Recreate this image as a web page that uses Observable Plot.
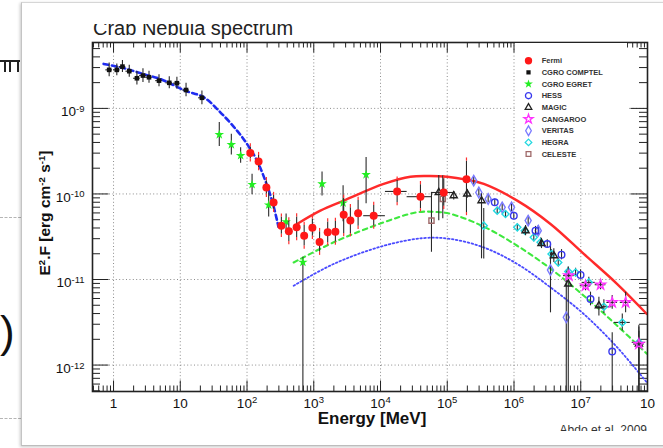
<!DOCTYPE html>
<html><head><meta charset="utf-8">
<script src="https://cdn.jsdelivr.net/npm/d3@7"></script>
<script src="https://cdn.jsdelivr.net/npm/@observablehq/plot@0.6"></script>
<style>
html,body{margin:0;padding:0;background:#fff;width:663px;height:448px;overflow:hidden;font-family:"Liberation Sans",Arial,Helvetica,sans-serif;}
#page{position:relative;width:663px;height:448px;overflow:hidden;background:#fff;}
.abs{position:absolute;}
#card{left:21px;top:2px;width:700px;height:442px;background:#fff;border-left:1px solid #c4c4c4;border-top:1px solid #d6d6d6;border-bottom:1px solid #bdbdbd;box-shadow:-1px 1px 3px rgba(0,0,0,0.22);}
#chart{left:0;top:0;}
#titleclip{left:93px;top:23.5px;width:260px;height:16px;overflow:hidden;}
#title{position:absolute;left:0;top:-6px;font-size:20px;line-height:20px;color:#222;white-space:nowrap;}
#ylabel{left:45px;top:213px;transform:translate(-50%,-50%) rotate(-90deg);font-size:15.5px;font-weight:bold;color:#111;white-space:nowrap;line-height:18px;}
#ylabel sup{font-size:0.62em;line-height:0;vertical-align:0.55em;}
#xlabel{left:372px;top:419px;transform:translate(-50%,-50%);font-size:17px;font-weight:bold;color:#111;white-space:nowrap;}
#citeclip{left:530px;top:424px;width:117px;height:7px;overflow:hidden;}
#cite{position:absolute;right:0;top:0;font-size:12px;line-height:12px;color:#333;white-space:nowrap;}
#legend{left:515px;top:43px;}
</style></head><body>
<div id="page">
  <div class="abs" style="left:0;top:60px;width:20px;height:2px;background:#222"></div>
  <div class="abs" style="left:4px;top:60px;width:1.5px;height:12px;background:#222"></div>
  <div class="abs" style="left:9px;top:60px;width:1.5px;height:12px;background:#222"></div>
  <div class="abs" style="left:17px;top:60px;width:1.5px;height:12px;background:#222"></div>
  <div class="abs" style="left:0;top:217px;width:21px;border-top:1px dashed #b5b5b5"></div>
  <div class="abs" style="left:0;top:418px;width:21px;border-top:1px dashed #b5b5b5"></div>
  <div class="abs" style="left:0;top:306px;font-size:44px;line-height:52px;color:#111">)</div>
  <div id="card" class="abs"></div>
  <div id="chart" class="abs"></div>
  <div id="titleclip" class="abs"><div id="title">Crab Nebula spectrum</div></div>
  <div id="ylabel" class="abs">E<sup>2</sup>.F [erg cm<sup>-2</sup> s<sup>-1</sup>]</div>
  <div id="xlabel" class="abs">Energy [MeV]</div>
  <div id="citeclip" class="abs"><div id="cite">Abdo et al. 2009</div></div>
  <div id="legend" class="abs"></div>
</div>
<script>
// ---------------- data (E in MeV, E^2F in erg cm^-2 s^-1; errors in decades) ----------------
const comptelE = [0.86,1.12,1.36,1.72,2.24,2.76,3.4,4.8,6.84,8.9,12.2,21.1];
const comptelF = [2.82e-9,2.82e-9,3.08e-9,2.72e-9,2.25e-9,2.42e-9,2.31e-9,2.11e-9,1.99e-9,1.97e-9,1.64e-9,1.33e-9];
const comptelErr = [0.08,0.07,0.07,0.07,0.08,0.08,0.07,0.07,0.07,0.07,0.08,0.08];
const comptelXErr = [0.05,0.05,0.05,0.05,0.05,0.05,0.05,0.05,0.05,0.05,0.05,0.05];

const egretE = [38.4,58.2,80.2,119,211,385,687,1330,2750,6080];
const egretF = [4.94e-10,3.77e-10,2.81e-10,1.29e-10,7.43e-11,4.74e-11,1.59e-11,1.31e-10,7.85e-11,1.68e-10];
const egretErrHi = [0.14,0.12,0.09,0.12,0.14,0.09,0.06,0.14,0.2,0.2];
const egretErrLo = [0.14,0.12,0.09,0.12,0.14,0.09,1.6,0.14,0.22,0.34];

const fermiE = [112,149,195,250,327,423,554,718,953,1222,1616,2108,2807,3536,4617,7907,17740,39660,88620,194000];
const fermiF = [3.02e-10,2.39e-10,1.19e-10,7.97e-11,4.26e-11,3.67e-11,4.09e-11,3.25e-11,4.04e-11,2.75e-11,3.56e-11,3.62e-11,5.73e-11,4.88e-11,5.93e-11,5.57e-11,1.07e-10,9.29e-11,1.04e-10,1.49e-10];
const fermiErrHi = [0.07,0.07,0.08,0.08,0.1,0.12,0.12,0.12,0.1,0.12,0.12,0.12,0.19,0.15,0.15,0.12,0.13,0.14,0.16,0.21];
const fermiErrLo = [0.07,0.07,0.08,0.08,0.1,0.12,0.12,0.12,0.1,0.12,0.12,0.12,0.22,0.15,0.15,0.12,0.13,0.14,0.16,0.39];
const fermiXErrLo = [0,0,0,0,0,0,0,0,0,0,0,0,0,0,0,0.15,0.175,0.2,0.17,0];
const fermiXErrHi = [0,0,0,0,0,0,0,0,0,0,0,0,0,0,0,0.175,0.15,0.17,0.17,0];

const hessE = [515000,993000,2.10e6,3.15e6,5.15e6,9.93e6,1.40e7,2.96e7];
const hessF = [7.98e-11,5.57e-11,3.72e-11,2.60e-11,1.95e-11,1.13e-11,5.92e-12,1.44e-12];
const hessErrHi = [0.04,0.04,0.05,0.05,0.06,0.06,0.08,0.22];
const hessErrLo = [0.04,0.04,0.05,0.05,0.06,0.06,0.08,1.2];

const magicE = [74600,125000,199000,326000,1.49e6,2.58e6,3.95e6,6.5e6,1.87e7,7.43e7];
const magicF = [1.04e-10,9.55e-11,1.00e-10,8.35e-11,3.72e-11,2.64e-11,1.90e-11,8.86e-12,4.94e-12,1.76e-12];
const magicErrHi = [0.2,0.05,0.05,0.08,0.06,0.06,0.08,0.2,0.1,0.2];
const magicErrLo = [0.33,0.05,0.05,0.68,0.06,0.06,0.08,1.5,0.12,1.0];

const cangarooE = [6.63e6,1.18e7,1.98e7,2.96e7,4.70e7,7.43e7];
const cangarooF = [1.11e-11,8.46e-12,8.69e-12,5.40e-12,5.40e-12,1.76e-12];
const cangarooErrHi = [0.05,0.06,0.06,0.08,0.12,0.15];
const cangarooErrLo = [0.05,0.06,0.06,0.08,0.12,1.0];
const cangarooXErr = [0.08,0.08,0.08,0.08,0.08,0.08];

const veritasE = [249000,297000,410000,665000,918000,1.63e6,2.31e6,3.52e6,6.07e6];
const veritasF = [1.43e-10,1.04e-10,8.74e-11,6.97e-11,6.97e-11,4.88e-11,3.72e-11,1.29e-11,3.61e-12];
const veritasErrHi = [0.05,0.04,0.04,0.04,0.05,0.05,0.06,0.3,0.55];
const veritasErrLo = [0.05,0.04,0.04,0.04,0.05,0.05,0.06,0.5,1.5];

const hegraE = [352000,560000,746000,1.12e6,1.45e6,1.98e6,2.50e6,3.65e6,4.60e6,6.50e6,8.36e6,1.32e7,2.22e7,4.19e7,7.43e7];
const hegraF = [4.26e-11,6.38e-11,5.83e-11,4.07e-11,3.72e-11,3.11e-11,2.72e-11,1.99e-11,1.58e-11,1.24e-11,1.21e-11,9.25e-12,4.81e-12,3.15e-12,1.84e-12];
const hegraErrHi = [0.2,0.04,0.04,0.04,0.04,0.05,0.05,0.05,0.05,0.05,0.05,0.06,0.08,0.1,0.2];
const hegraErrLo = [0.39,0.04,0.04,0.04,0.04,0.05,0.05,0.05,0.05,0.05,0.05,0.06,0.08,0.1,1.2];
const hegraXErr = [0,0,0,0,0,0,0,0,0,0,0,0.1,0.12,0.12,0.1];

const celesteE = [58000,85700];
const celesteF = [4.88e-11,8.74e-11];
const celesteErrHi = [0.33,0.27];
const celesteErrLo = [0.37,0.23];

// model curves
const syncE = [0.71,1.5,3.0,5.0,11.9,22.4,39.8,70.8,100,141,188,237,282,295];
const syncF = [3.31e-9,2.92e-9,2.48e-9,2.21e-9,1.61e-9,1.35e-9,9.0e-10,5.5e-10,3.84e-10,2.45e-10,1.43e-10,8.36e-11,4.88e-11,4.15e-11];
const icRedE = [562,1256,2805,11170,28060,55000,99770,194000,352600,1.117e6,3.52e6,1.11e7,3.52e7,9.77e7];
const icRedF = [4.46e-11,6.38e-11,8.35e-11,1.31e-10,1.59e-10,1.62e-10,1.59e-10,1.47e-10,1.31e-10,8.35e-11,4.46e-11,1.99e-11,8.85e-12,3.95e-12];
const icGreenE = [500,1987,11170,35400,70000,112700,352600,1.117e6,3.52e6,1.11e7,3.52e7,9.77e7];
const icGreenF = [1.58e-11,2.72e-11,4.66e-11,6.10e-11,6.15e-11,5.85e-11,4.15e-11,2.48e-11,1.34e-11,6.47e-12,2.88e-12,1.36e-12];
const icBlueE = [500,1987,11170,44460,111700,352600,1.117e6,3.52e6,1.11e7,3.52e7,9.77e7];
const icBlueF = [8.46e-12,1.52e-11,2.48e-11,3.05e-11,2.98e-11,2.37e-11,1.52e-11,8.09e-12,3.95e-12,1.61e-12,6.26e-13];

// axes
const xTickValues = [1,10,1e2,1e3,1e4,1e5,1e6,1e7,1e8];
const xTickLabels = ["1","10","10^2","10^3","10^4","10^5","10^6","10^7","10"];
const yTickValues = [1e-12,1e-11,1e-10,1e-9];
const yTickLabels = ["10^-12","10^-11","10^-10","10^-9"];
const legendNames = ["Fermi","CGRO COMPTEL","CGRO EGRET","HESS","MAGIC","CANGAROO","VERITAS","HEGRA","CELESTE"];

// ---------------- build ----------------
function rows(E, F, hi, lo, xlo, xhi){
  return E.map((e,i)=>({E:e, F:F[i],
    hi: F[i]*Math.pow(10, hi ? hi[i] : 0),
    lo: F[i]/Math.pow(10, lo ? lo[i] : 0),
    x1: e/Math.pow(10, xlo ? xlo[i] : 0),
    x2: e*Math.pow(10, xhi ? xhi[i] : 0),
    hasX: !!(xlo && xlo[i] > 0)}));
}
const comptel = rows(comptelE, comptelF, comptelErr, comptelErr, comptelXErr, comptelXErr);
const egret = rows(egretE, egretF, egretErrHi, egretErrLo);
const fermi = rows(fermiE, fermiF, fermiErrHi, fermiErrLo, fermiXErrLo, fermiXErrHi);
const hess = rows(hessE, hessF, hessErrHi, hessErrLo);
const magic = rows(magicE, magicF, magicErrHi, magicErrLo);
const cangaroo = rows(cangarooE, cangarooF, cangarooErrHi, cangarooErrLo, cangarooXErr, cangarooXErr);
const veritas = rows(veritasE, veritasF, veritasErrHi, veritasErrLo);
const hegra = rows(hegraE, hegraF, hegraErrHi, hegraErrLo, hegraXErr, hegraXErr);
const celeste = rows(celesteE, celesteF, celesteErrHi, celesteErrLo);
const curve = (E,F)=>E.map((e,i)=>({E:e, F:F[i]}));

const styles = {
  "Fermi": {symbol:"circle", fill:"#ff1818", stroke:"none", r:4},
  "CGRO COMPTEL": {symbol:"square", fill:"#111", stroke:"none", r:2.6},
  "CGRO EGRET": {symbol:"star", fill:"#22ee22", stroke:"none", r:3},
  "HESS": {symbol:"circle", fill:"none", stroke:"#3838ee", r:3.3},
  "MAGIC": {symbol:"triangle2", fill:"none", stroke:"#222", r:3.4},
  "CANGAROO": {symbol:"star", fill:"none", stroke:"#ff33ff", r:3.1},
  "VERITAS": {symbol:"diamond", fill:"none", stroke:"#7a7aff", r:3.2},
  "HEGRA": {symbol:"diamond2", fill:"none", stroke:"#22d8e0", r:3.2},
  "CELESTE": {symbol:"square", fill:"none", stroke:"#a06a6a", r:2.9}
};

const xDomain = [0.484, 1e8], yDomain = [4.91e-13, 5.89e-9];
const mL = 92, mR = 16, mT = 42, mB = 57, Wd = 663, Ht = 448;
const FW = Wd - mL - mR, FH = Ht - mT - mB;

const xMinor = [], yMinor = [];
for (let p = -1; p <= 8; p++) for (let k = 2; k <= 9; k++) { const v = k*Math.pow(10,p); if (v > xDomain[0] && v < xDomain[1]) xMinor.push(v); }
for (let p = -13; p <= -9; p++) for (let k = 2; k <= 9; k++) { const v = k*Math.pow(10,p); if (v > yDomain[0] && v < yDomain[1]) yMinor.push(v); }
const xMajor = xTickValues.filter(v => v < xDomain[1]);
const yMajor = yTickValues;

const errStroke = "#2a2a2a";
function series(data, name){
  const s = styles[name];
  const m = [
    Plot.ruleX(data, {x:"E", y1:"lo", y2:"hi", stroke:errStroke, strokeWidth:1.1, clip:true}),
    Plot.ruleY(data.filter(d=>d.hasX), {y:"F", x1:"x1", x2:"x2", stroke:errStroke, strokeWidth:1.1}),
    Plot.dot(data, {x:"E", y:"F", symbol:s.symbol, fill:s.fill, stroke:s.stroke, r:s.r, strokeWidth:1.4})
  ];
  return m;
}

const gridStyle = {stroke:"#8c8c8c", strokeDasharray:"1,2.4", strokeWidth:1};
const tickStyle = {stroke:"#222", strokeWidth:1};

const svg = Plot.plot({
  width: Wd, height: Ht,
  marginLeft: mL, marginRight: mR, marginTop: mT, marginBottom: mB,
  x: {type:"log", domain:xDomain, axis:null},
  y: {type:"log", domain:yDomain, axis:null},
  style: {background:"transparent", fontFamily:"'Liberation Sans', Arial, sans-serif", overflow:"visible"},
  marks: [
    Plot.ruleX(xMajor.filter(v=>v<1e8), gridStyle),
    Plot.ruleY(yMajor, gridStyle),
    // ticks (inside frame, all four sides)
    Plot.tickX(xMinor, {...tickStyle, insetTop: FH-5.5}),
    Plot.tickX(xMinor, {...tickStyle, insetBottom: FH-5.5}),
    Plot.tickX(xMajor, {...tickStyle, insetTop: FH-10.5}),
    Plot.tickX(xMajor, {...tickStyle, insetBottom: FH-10.5}),
    Plot.tickY(yMinor, {...tickStyle, insetRight: FW-8}),
    Plot.tickY(yMinor, {...tickStyle, insetLeft: FW-8}),
    Plot.tickY(yMajor, {...tickStyle, insetRight: FW-16.5}),
    Plot.tickY(yMajor, {...tickStyle, insetLeft: FW-16.5}),
    // model curves
    Plot.line(curve(syncE, syncF), {x:"E", y:"F", curve:"catmull-rom", stroke:"#1f2cf0", strokeWidth:2.6, strokeDasharray:"5,3.5"}),
    Plot.line(curve(icBlueE, icBlueF), {x:"E", y:"F", curve:"catmull-rom", stroke:"#4a4aff", strokeWidth:1.8, strokeDasharray:"1.6,2.4", clip:true}),
    Plot.line(curve(icGreenE, icGreenF), {x:"E", y:"F", curve:"catmull-rom", stroke:"#3ee83e", strokeWidth:2.1, strokeDasharray:"4.5,4"}),
    Plot.line(curve(icRedE, icRedF), {x:"E", y:"F", curve:"catmull-rom", stroke:"#ff2a2a", strokeWidth:2.4}),
    // data
    ...series(comptel, "CGRO COMPTEL"),
    ...series(egret, "CGRO EGRET"),
    ...series(celeste, "CELESTE"),
    ...series(veritas, "VERITAS"),
    ...series(hegra, "HEGRA"),
    ...series(hess, "HESS"),
    ...series(magic, "MAGIC"),
    ...series(cangaroo, "CANGAROO"),
    Plot.ruleX(fermi, {x:"E", y1:"lo", y2:"hi", stroke:errStroke, strokeWidth:1.1}),
    Plot.ruleX(fermi, {x:"E", y1:"hi", y2:d=>d.hi*1.09, stroke:"#ff3030", strokeWidth:1.2}),
    Plot.ruleX(fermi, {x:"E", y1:"lo", y2:d=>d.lo/1.09, stroke:"#ff3030", strokeWidth:1.2}),
    Plot.ruleY(fermi.filter(d=>d.hasX), {y:"F", x1:"x1", x2:"x2", stroke:errStroke, strokeWidth:1.1}),
    Plot.dot(fermi, {x:"E", y:"F", symbol:"circle", fill:styles["Fermi"].fill, r:styles["Fermi"].r}),
    Plot.frame({stroke:"#222", strokeWidth:1.6}),
    // tick labels
    Plot.text(xTickValues, {x:d=>d, text:(d,i)=>xTickLabels[i], frameAnchor:"bottom", dy:16, fontSize:13.5, fill:"#111"}),
    Plot.text(yTickValues, {y:d=>d, text:(d,i)=>yTickLabels[i], frameAnchor:"left", dx:-8, dy:3.5, textAnchor:"end", fontSize:13.5, fill:"#111"})
  ]
});

// superscript exponents in tick labels
svg.querySelectorAll("text").forEach(t => {
  const s = t.textContent;
  if (s.includes("^")) {
    const [base, exp] = s.split("^");
    t.textContent = "";
    t.appendChild(document.createTextNode(base));
    const ts = document.createElementNS("http://www.w3.org/2000/svg", "tspan");
    ts.setAttribute("dy", "-0.45em");
    ts.setAttribute("font-size", "9.5");
    ts.textContent = exp;
    t.appendChild(ts);
  }
});
document.getElementById("chart").appendChild(svg);

// legend
const symMap = {circle:d3.symbolCircle, square:d3.symbolSquare, star:d3.symbolStar, triangle2:d3.symbolTriangle2, diamond:d3.symbolDiamond, diamond2:d3.symbolDiamond2};
const lg = d3.select("#legend").append("svg").attr("width", 112).attr("height", 115);
lg.append("rect").attr("width", 112).attr("height", 115).attr("fill", "#fff");
legendNames.forEach((name, i) => {
  const s = styles[name];
  const cy = 17.7 + i*11.67;
  lg.append("path")
    .attr("d", d3.symbol(symMap[s.symbol], Math.PI*s.r*s.r*0.85)())
    .attr("transform", `translate(13.5,${cy})`)
    .attr("fill", s.fill).attr("stroke", s.stroke === "none" ? null : s.stroke).attr("stroke-width", 1.3);
  lg.append("text").attr("x", 26.7).attr("y", cy).attr("dy", "0.35em")
    .attr("font-size", 7.5).attr("font-weight", "bold").attr("fill", "#333")
    .attr("font-family", "'Liberation Sans', Arial, sans-serif").text(name);
});
</script>
</body></html>
